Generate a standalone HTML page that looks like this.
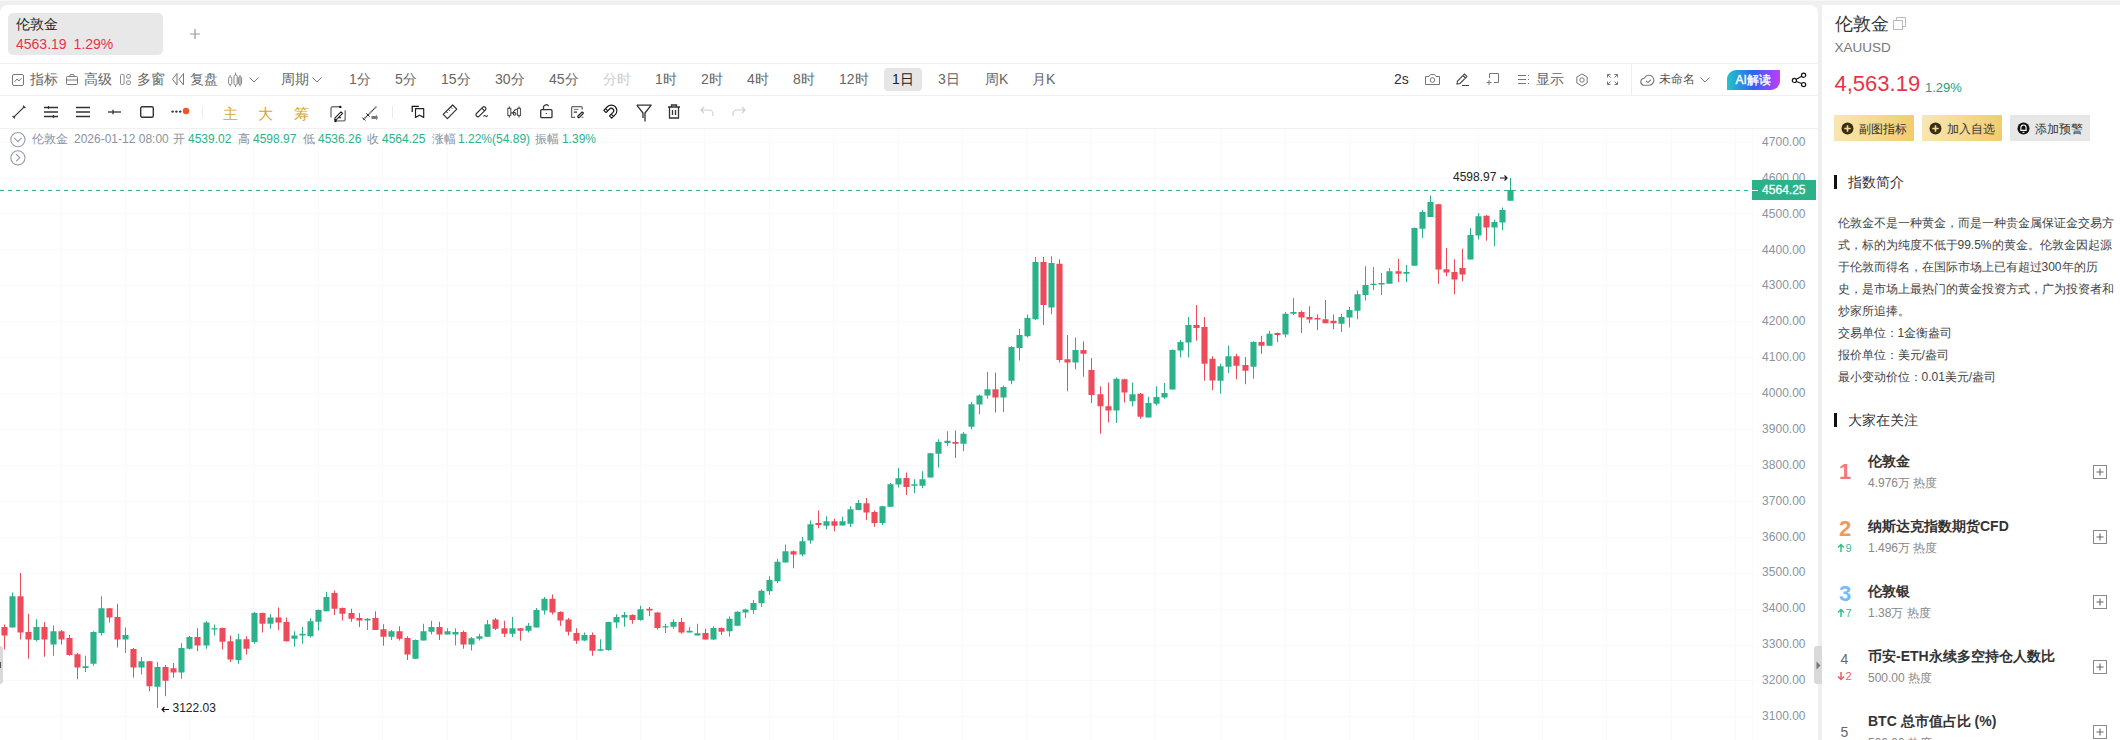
<!DOCTYPE html>
<html><head><meta charset="utf-8"><style>
html,body{margin:0;padding:0}
body{width:2120px;height:740px;overflow:hidden;background:#efefef;position:relative;font-family:"Liberation Sans",sans-serif}
.t{position:absolute;white-space:nowrap}
.i{position:absolute;overflow:visible}
</style></head><body>
<div style="position:absolute;left:0;top:0;width:2120px;height:1px;background:#f7f7f7"></div>
<div style="position:absolute;left:0;top:5px;width:1818px;height:735px;background:#fff;border-radius:8px 8px 0 0"></div>
<div style="position:absolute;left:1822px;top:5px;width:298px;height:735px;background:#fff"></div>
<svg width="1818" height="612" viewBox="0 128 1818 612" style="position:absolute;left:0;top:128px">
<path d="M60.5 129V740 M125.5 129V740 M189.5 129V740 M253.5 129V740 M318.5 129V740 M382.5 129V740 M447.5 129V740 M511.5 129V740 M576.5 129V740 M640.5 129V740 M704.5 129V740 M769.5 129V740 M833.5 129V740 M898.5 129V740 M962.5 129V740 M1027.5 129V740 M1091.5 129V740 M1155.5 129V740 M1220.5 129V740 M1284.5 129V740 M1349.5 129V740 M1413.5 129V740 M1478.5 129V740 M1542.5 129V740 M1606.5 129V740 M1671.5 129V740 M1735.5 129V740 M0 142.5H1757 M0 178.5H1757 M0 213.5H1757 M0 249.5H1757 M0 285.5H1757 M0 321.5H1757 M0 357.5H1757 M0 393.5H1757 M0 429.5H1757 M0 465.5H1757 M0 501.5H1757 M0 537.5H1757 M0 573.5H1757 M0 609.5H1757 M0 645.5H1757 M0 680.5H1757 M0 716.5H1757" stroke="#f8f9fb" stroke-width="1" fill="none"/>
<path d="M1752.5 129V740" stroke="#f9fafb" stroke-width="1"/>
<path d="M12.5 592.50V627.50 M36.5 619.25V641.50 M53.5 625.50V655.75 M85.5 655.75V672.00 M93.5 631.25V665.75 M101.5 596.25V635.50 M125.5 627.50V653.00 M141.5 657.00V674.50 M157.5 662.00V708.00 M181.5 643.25V678.75 M189.5 635.75V649.50 M206.5 621.25V648.75 M214.5 624.50V635.50 M238.5 633.75V663.75 M254.5 612.00V643.75 M270.5 614.25V628.75 M294.5 631.25V646.75 M302.5 627.00V643.75 M310.5 618.25V637.50 M318.5 609.50V630.50 M326.5 591.75V611.25 M367.5 618.00V630.00 M391.5 630.00V640.00 M415.5 639.50V658.75 M423.5 623.75V640.50 M431.5 620.75V634.50 M447.5 628.25V634.50 M455.5 628.25V645.50 M471.5 637.00V650.50 M479.5 633.75V640.50 M487.5 620.00V636.75 M512.5 617.00V637.00 M528.5 623.00V632.50 M536.5 608.00V627.50 M544.5 597.00V614.50 M584.5 632.50V641.25 M600.5 639.25V650.75 M608.5 621.75V650.75 M616.5 614.25V628.25 M624.5 612.00V626.75 M640.5 605.75V620.75 M665.5 623.75V633.00 M673.5 619.25V628.75 M689.5 627.00V632.50 M697.5 623.75V635.50 M713.5 626.25V640.00 M729.5 616.25V636.75 M737.5 611.25V625.75 M745.5 608.75V618.00 M753.5 600.00V613.75 M761.5 589.25V607.00 M769.5 576.25V595.00 M777.5 558.75V583.00 M785.5 544.50V562.50 M802.5 537.00V556.25 M810.5 520.50V543.75 M826.5 516.25V529.25 M842.5 516.75V525.50 M850.5 506.25V527.00 M858.5 500.00V510.00 M882.5 505.75V525.00 M890.5 483.00V506.75 M898.5 468.00V487.50 M914.5 479.25V493.00 M922.5 471.25V488.25 M930.5 453.00V477.50 M938.5 439.25V467.50 M947.5 431.25V446.25 M963.5 432.00V451.25 M971.5 401.75V429.25 M979.5 394.50V414.25 M987.5 372.00V398.75 M1003.5 385.50V412.00 M1011.5 346.25V384.25 M1019.5 328.75V360.50 M1027.5 314.50V337.50 M1035.5 257.00V320.00 M1051.5 256.25V314.25 M1075.5 337.50V369.25 M1116.5 377.50V423.00 M1132.5 382.50V406.25 M1148.5 396.75V417.50 M1156.5 386.25V405.50 M1164.5 383.00V398.75 M1172.5 349.50V389.50 M1180.5 340.00V357.50 M1188.5 317.00V357.50 M1220.5 363.75V393.75 M1228.5 345.50V373.00 M1253.5 341.25V378.75 M1269.5 330.75V345.75 M1285.5 312.00V337.50 M1293.5 298.00V315.00 M1341.5 313.75V332.00 M1349.5 307.00V327.50 M1357.5 290.50V319.25 M1365.5 266.25V300.50 M1373.5 267.00V290.00 M1381.5 273.00V295.00 M1389.5 268.00V283.75 M1406.5 265.00V282.00 M1414.5 227.50V265.75 M1422.5 210.00V238.00 M1430.5 195.50V217.00 M1470.5 228.00V259.50 M1478.5 213.00V239.50 M1494.5 219.50V246.25 M1502.5 207.50V230.00 M1510.5 178.00V200.75" stroke="#2bb28a" stroke-width="1" fill="none"/>
<path d="M4.5 624.50V649.50 M20.5 573.00V639.50 M28.5 613.75V658.75 M44.5 622.00V656.75 M61.5 630.00V644.50 M69.5 635.00V655.75 M77.5 653.00V679.25 M109.5 608.25V622.50 M117.5 603.75V647.50 M133.5 648.00V677.50 M149.5 661.25V691.25 M165.5 665.00V696.25 M173.5 663.00V677.50 M197.5 628.25V651.25 M222.5 627.50V649.50 M230.5 635.50V662.00 M246.5 636.25V654.50 M262.5 612.50V632.50 M278.5 607.50V630.00 M286.5 617.50V641.75 M334.5 590.50V615.00 M342.5 607.50V620.50 M351.5 608.75V621.75 M359.5 613.00V627.00 M375.5 611.25V630.00 M383.5 624.25V645.75 M399.5 626.25V640.50 M407.5 636.25V660.00 M439.5 621.75V640.00 M463.5 630.50V648.75 M495.5 618.00V630.00 M504.5 620.75V637.00 M520.5 628.00V640.75 M552.5 594.50V614.50 M560.5 611.25V625.75 M568.5 618.00V635.50 M576.5 628.25V643.75 M592.5 632.50V655.75 M632.5 614.25V623.75 M649.5 607.00V616.25 M657.5 612.00V629.50 M681.5 618.00V633.75 M705.5 628.75V639.50 M721.5 627.50V635.00 M793.5 550.50V568.25 M818.5 510.50V528.25 M834.5 518.75V531.25 M866.5 498.00V520.00 M874.5 510.50V526.75 M906.5 472.50V495.00 M955.5 430.50V458.00 M995.5 372.50V412.50 M1043.5 257.00V325.00 M1059.5 259.25V362.50 M1067.5 335.00V391.25 M1083.5 341.25V376.75 M1091.5 358.00V403.00 M1100.5 386.25V433.75 M1108.5 382.50V422.50 M1124.5 378.75V402.50 M1140.5 393.00V418.75 M1196.5 305.00V340.75 M1204.5 317.00V380.75 M1212.5 356.25V390.00 M1236.5 353.75V379.25 M1245.5 357.00V384.25 M1261.5 335.75V353.75 M1277.5 332.50V342.00 M1301.5 310.50V333.00 M1309.5 306.25V323.25 M1317.5 314.50V330.00 M1325.5 300.00V323.25 M1333.5 314.50V329.25 M1398.5 258.75V282.00 M1438.5 203.75V283.75 M1446.5 248.00V276.25 M1454.5 259.25V294.25 M1462.5 248.75V281.25 M1486.5 215.00V240.75" stroke="#ee4b5a" stroke-width="1" fill="none"/>
<path d="M9.45 596.25h6.1V627.50h-6.1Z M33.45 627.00h6.1V640.00h-6.1Z M50.45 631.25h6.1V644.50h-6.1Z M82.45 666.25h6.1V668.00h-6.1Z M90.45 632.00h6.1V663.75h-6.1Z M98.45 608.25h6.1V633.00h-6.1Z M122.45 635.00h6.1V639.50h-6.1Z M138.45 661.25h6.1V667.50h-6.1Z M154.45 667.00h6.1V686.75h-6.1Z M178.45 648.00h6.1V672.50h-6.1Z M186.45 637.00h6.1V648.75h-6.1Z M203.45 622.50h6.1V645.50h-6.1Z M211.45 628.25h6.1V629.50h-6.1Z M235.45 639.25h6.1V660.00h-6.1Z M251.45 613.00h6.1V642.00h-6.1Z M267.45 617.50h6.1V623.75h-6.1Z M291.45 635.50h6.1V638.75h-6.1Z M299.45 633.75h6.1V635.50h-6.1Z M307.45 621.25h6.1V636.25h-6.1Z M315.45 610.00h6.1V621.75h-6.1Z M323.45 597.00h6.1V611.25h-6.1Z M364.45 618.75h6.1V620.50h-6.1Z M388.45 631.25h6.1V636.75h-6.1Z M412.45 640.00h6.1V658.75h-6.1Z M420.45 631.25h6.1V640.50h-6.1Z M428.45 627.00h6.1V631.75h-6.1Z M444.45 631.25h6.1V634.50h-6.1Z M452.45 632.00h6.1V634.50h-6.1Z M468.45 638.25h6.1V644.50h-6.1Z M476.45 636.25h6.1V638.75h-6.1Z M484.45 624.25h6.1V636.75h-6.1Z M509.45 628.25h6.1V633.75h-6.1Z M525.45 625.75h6.1V630.75h-6.1Z M533.45 610.00h6.1V627.50h-6.1Z M541.45 598.75h6.1V610.50h-6.1Z M581.45 635.00h6.1V640.50h-6.1Z M597.45 649.25h6.1V650.75h-6.1Z M605.45 622.00h6.1V650.00h-6.1Z M613.45 617.00h6.1V622.50h-6.1Z M621.45 615.00h6.1V617.50h-6.1Z M637.45 609.25h6.1V620.00h-6.1Z M662.45 626.25h6.1V627.50h-6.1Z M670.45 622.00h6.1V626.75h-6.1Z M686.45 630.75h6.1V632.50h-6.1Z M694.45 633.25h6.1V635.50h-6.1Z M710.45 628.00h6.1V639.50h-6.1Z M726.45 618.75h6.1V631.25h-6.1Z M734.45 611.75h6.1V625.75h-6.1Z M742.45 609.50h6.1V612.50h-6.1Z M750.45 603.00h6.1V610.00h-6.1Z M758.45 590.75h6.1V603.25h-6.1Z M766.45 580.00h6.1V591.25h-6.1Z M774.45 561.75h6.1V581.25h-6.1Z M782.45 551.25h6.1V562.50h-6.1Z M799.45 541.25h6.1V554.50h-6.1Z M807.45 524.25h6.1V540.50h-6.1Z M823.45 521.25h6.1V525.75h-6.1Z M839.45 521.25h6.1V525.50h-6.1Z M847.45 509.25h6.1V523.75h-6.1Z M855.45 503.00h6.1V510.00h-6.1Z M879.45 506.25h6.1V523.00h-6.1Z M887.45 484.25h6.1V506.75h-6.1Z M895.45 478.25h6.1V484.50h-6.1Z M911.45 484.25h6.1V485.75h-6.1Z M919.45 479.25h6.1V485.75h-6.1Z M927.45 453.25h6.1V477.50h-6.1Z M935.45 442.00h6.1V453.75h-6.1Z M944.45 440.75h6.1V443.00h-6.1Z M960.45 433.75h6.1V443.75h-6.1Z M968.45 404.25h6.1V426.75h-6.1Z M976.45 395.50h6.1V404.50h-6.1Z M984.45 389.25h6.1V395.50h-6.1Z M1000.45 387.00h6.1V397.50h-6.1Z M1008.45 347.00h6.1V380.75h-6.1Z M1016.45 335.00h6.1V348.00h-6.1Z M1024.45 318.00h6.1V336.25h-6.1Z M1032.45 262.00h6.1V319.25h-6.1Z M1048.45 263.00h6.1V307.50h-6.1Z M1072.45 350.00h6.1V362.50h-6.1Z M1113.45 378.75h6.1V410.50h-6.1Z M1129.45 394.25h6.1V401.25h-6.1Z M1145.45 403.00h6.1V417.50h-6.1Z M1153.45 397.00h6.1V403.75h-6.1Z M1161.45 393.00h6.1V397.50h-6.1Z M1169.45 350.00h6.1V389.50h-6.1Z M1177.45 342.00h6.1V350.50h-6.1Z M1185.45 325.00h6.1V342.50h-6.1Z M1217.45 366.25h6.1V380.75h-6.1Z M1225.45 356.25h6.1V366.75h-6.1Z M1250.45 342.00h6.1V366.75h-6.1Z M1266.45 333.75h6.1V345.75h-6.1Z M1282.45 313.75h6.1V334.50h-6.1Z M1290.45 312.00h6.1V313.75h-6.1Z M1338.45 317.00h6.1V323.75h-6.1Z M1346.45 310.00h6.1V317.50h-6.1Z M1354.45 294.25h6.1V310.75h-6.1Z M1362.45 285.00h6.1V295.00h-6.1Z M1370.45 283.75h6.1V285.00h-6.1Z M1378.45 283.00h6.1V284.50h-6.1Z M1386.45 271.25h6.1V283.75h-6.1Z M1403.45 272.00h6.1V273.75h-6.1Z M1411.45 228.00h6.1V265.75h-6.1Z M1419.45 212.00h6.1V228.75h-6.1Z M1427.45 202.00h6.1V217.00h-6.1Z M1467.45 235.00h6.1V259.50h-6.1Z M1475.45 216.25h6.1V235.50h-6.1Z M1491.45 222.00h6.1V227.50h-6.1Z M1499.45 210.00h6.1V222.50h-6.1Z M1507.45 190.00h6.1V200.75h-6.1Z" fill="#2bb28a"/>
<path d="M1.45 627.00h6.1V635.50h-6.1Z M17.45 596.25h6.1V632.50h-6.1Z M25.45 632.00h6.1V639.50h-6.1Z M41.45 627.00h6.1V639.50h-6.1Z M58.45 631.25h6.1V639.50h-6.1Z M66.45 638.00h6.1V655.00h-6.1Z M74.45 654.25h6.1V667.50h-6.1Z M106.45 608.25h6.1V617.50h-6.1Z M114.45 617.00h6.1V639.50h-6.1Z M130.45 649.00h6.1V667.50h-6.1Z M146.45 661.25h6.1V686.25h-6.1Z M162.45 667.00h6.1V680.75h-6.1Z M170.45 668.25h6.1V672.50h-6.1Z M194.45 637.00h6.1V645.50h-6.1Z M219.45 628.00h6.1V641.75h-6.1Z M227.45 641.25h6.1V659.50h-6.1Z M243.45 639.25h6.1V648.75h-6.1Z M259.45 613.00h6.1V623.75h-6.1Z M275.45 617.50h6.1V622.50h-6.1Z M283.45 622.00h6.1V641.25h-6.1Z M331.45 593.00h6.1V608.75h-6.1Z M339.45 608.00h6.1V613.75h-6.1Z M348.45 613.00h6.1V618.75h-6.1Z M356.45 618.00h6.1V620.50h-6.1Z M372.45 618.00h6.1V630.00h-6.1Z M380.45 629.25h6.1V636.75h-6.1Z M396.45 631.25h6.1V638.75h-6.1Z M404.45 638.00h6.1V654.50h-6.1Z M436.45 627.00h6.1V634.50h-6.1Z M460.45 632.00h6.1V644.50h-6.1Z M492.45 619.50h6.1V628.75h-6.1Z M501.45 628.25h6.1V633.75h-6.1Z M517.45 628.25h6.1V630.75h-6.1Z M549.45 598.75h6.1V612.50h-6.1Z M557.45 612.00h6.1V620.50h-6.1Z M565.45 619.50h6.1V631.75h-6.1Z M573.45 633.00h6.1V640.75h-6.1Z M589.45 635.00h6.1V650.75h-6.1Z M629.45 615.00h6.1V620.00h-6.1Z M646.45 608.75h6.1V610.50h-6.1Z M654.45 612.50h6.1V628.00h-6.1Z M678.45 622.00h6.1V632.50h-6.1Z M702.45 633.00h6.1V639.50h-6.1Z M718.45 628.00h6.1V631.75h-6.1Z M790.45 551.25h6.1V554.50h-6.1Z M815.45 523.00h6.1V525.00h-6.1Z M831.45 521.25h6.1V525.75h-6.1Z M863.45 503.25h6.1V512.50h-6.1Z M871.45 512.00h6.1V523.00h-6.1Z M903.45 478.00h6.1V487.00h-6.1Z M952.45 442.00h6.1V443.75h-6.1Z M992.45 389.25h6.1V397.50h-6.1Z M1040.45 262.00h6.1V305.00h-6.1Z M1056.45 263.75h6.1V360.00h-6.1Z M1064.45 359.25h6.1V362.50h-6.1Z M1080.45 350.00h6.1V353.75h-6.1Z M1088.45 370.00h6.1V395.00h-6.1Z M1097.45 394.25h6.1V406.25h-6.1Z M1105.45 406.25h6.1V410.50h-6.1Z M1121.45 379.25h6.1V392.50h-6.1Z M1137.45 393.75h6.1V416.75h-6.1Z M1193.45 325.00h6.1V328.00h-6.1Z M1201.45 327.00h6.1V363.75h-6.1Z M1209.45 358.75h6.1V380.50h-6.1Z M1233.45 356.25h6.1V365.75h-6.1Z M1242.45 365.00h6.1V370.75h-6.1Z M1258.45 342.00h6.1V345.75h-6.1Z M1274.45 333.00h6.1V335.00h-6.1Z M1298.45 312.00h6.1V317.50h-6.1Z M1306.45 317.00h6.1V319.50h-6.1Z M1314.45 318.00h6.1V319.50h-6.1Z M1322.45 319.25h6.1V323.25h-6.1Z M1330.45 320.75h6.1V323.25h-6.1Z M1395.45 271.25h6.1V273.75h-6.1Z M1435.45 204.25h6.1V269.50h-6.1Z M1443.45 269.25h6.1V272.50h-6.1Z M1451.45 272.00h6.1V279.50h-6.1Z M1459.45 268.00h6.1V274.50h-6.1Z M1483.45 215.75h6.1V227.50h-6.1Z" fill="#ee4b5a"/>
<path d="M0 190.5H1752" stroke="#2bb28a" stroke-width="1" stroke-dasharray="4 4"/>
<path d="M1500 178H1507M1504.5 175.5L1507 178L1504.5 180.5" stroke="#111" stroke-width="1.1" fill="none"/>
<path d="M162 709.5H169M164.5 707L162 709.5L164.5 712" stroke="#111" stroke-width="1.1" fill="none"/>
</svg>
<div style="position:absolute;left:8px;top:13px;width:155px;height:42px;background:#e8e8e8;border-radius:5px"></div>
<div class="t" style="left:16px;top:15.0px;height:18px;line-height:18px;font-size:14px;color:#222;">伦敦金</div>
<div class="t" style="left:16px;top:35.0px;height:18px;line-height:18px;font-size:14px;color:#e8334a;">4563.19<span style="margin-left:7px">1.29%</span></div>
<svg style="position:absolute;left:189px;top:28px" width="12" height="12"><path d="M6 1V11M1 6H11" stroke="#999" stroke-width="1.2"/></svg>
<div style="position:absolute;left:0;top:63px;width:1818px;height:1px;background:#f0f0f0"></div>
<div style="position:absolute;left:0;top:95px;width:1818px;height:1px;background:#f0f0f0"></div>
<div style="position:absolute;left:0;top:128px;width:1818px;height:1px;background:#f0f0f0"></div>
<div style="position:absolute;left:1631px;top:64px;width:1px;height:31px;background:#eeeeee"></div>
<div class="t" style="left:30px;top:70.0px;height:18px;line-height:18px;font-size:14px;color:#666;">指标</div>
<div class="t" style="left:84px;top:70.0px;height:18px;line-height:18px;font-size:14px;color:#666;">高级</div>
<div class="t" style="left:137px;top:70.0px;height:18px;line-height:18px;font-size:14px;color:#666;">多窗</div>
<div class="t" style="left:190px;top:70.0px;height:18px;line-height:18px;font-size:14px;color:#666;">复盘</div>
<div class="t" style="left:281px;top:70.0px;height:18px;line-height:18px;font-size:14px;color:#666;">周期</div>
<div class="t" style="left:349px;top:70.0px;height:18px;line-height:18px;font-size:14px;color:#666;">1分</div>
<div class="t" style="left:395px;top:70.0px;height:18px;line-height:18px;font-size:14px;color:#666;">5分</div>
<div class="t" style="left:441px;top:70.0px;height:18px;line-height:18px;font-size:14px;color:#666;">15分</div>
<div class="t" style="left:495px;top:70.0px;height:18px;line-height:18px;font-size:14px;color:#666;">30分</div>
<div class="t" style="left:549px;top:70.0px;height:18px;line-height:18px;font-size:14px;color:#666;">45分</div>
<div class="t" style="left:655px;top:70.0px;height:18px;line-height:18px;font-size:14px;color:#666;">1时</div>
<div class="t" style="left:701px;top:70.0px;height:18px;line-height:18px;font-size:14px;color:#666;">2时</div>
<div class="t" style="left:747px;top:70.0px;height:18px;line-height:18px;font-size:14px;color:#666;">4时</div>
<div class="t" style="left:793px;top:70.0px;height:18px;line-height:18px;font-size:14px;color:#666;">8时</div>
<div class="t" style="left:839px;top:70.0px;height:18px;line-height:18px;font-size:14px;color:#666;">12时</div>
<div class="t" style="left:938px;top:70.0px;height:18px;line-height:18px;font-size:14px;color:#666;">3日</div>
<div class="t" style="left:985px;top:70.0px;height:18px;line-height:18px;font-size:14px;color:#666;">周K</div>
<div class="t" style="left:1032px;top:70.0px;height:18px;line-height:18px;font-size:14px;color:#666;">月K</div>
<div class="t" style="left:1536px;top:70.0px;height:18px;line-height:18px;font-size:14px;color:#666;">显示</div>
<div class="t" style="left:603px;top:70.0px;height:18px;line-height:18px;font-size:14px;color:#cccccc;">分时</div>
<div class="t" style="left:1659px;top:71.0px;height:16px;line-height:16px;font-size:12px;color:#555;">未命名</div>
<div class="t" style="left:1394px;top:70.0px;height:18px;line-height:18px;font-size:14px;color:#333;">2s</div>
<div style="position:absolute;left:884px;top:68px;width:38px;height:23px;background:#e6e6e6;border-radius:4px"></div>
<div class="t" style="left:892px;top:70.0px;height:18px;line-height:18px;font-size:14px;color:#222;">1日</div>

<svg class="i" style="left:12px;top:74px" width="12" height="12"><rect x="0.5" y="0.5" width="11" height="11" rx="1.5" fill="none" stroke="#777"/><path d="M2.5 8L5 5L7 7L9.5 4" fill="none" stroke="#777"/></svg>
<svg class="i" style="left:66px;top:73px" width="12" height="12"><path d="M3.5 3.5L4.5 1.5H7.5L8.5 3.5" fill="none" stroke="#777"/><rect x="0.5" y="3.5" width="11" height="8" rx="1" fill="none" stroke="#777"/><path d="M0.5 7H11.5" stroke="#777"/></svg>
<svg class="i" style="left:120px;top:74px" width="11" height="11"><rect x="0.5" y="0.5" width="3.6" height="10" rx="1" fill="none" stroke="#888"/><rect x="6.7" y="0.5" width="3.6" height="3.6" rx="1" fill="none" stroke="#888"/><rect x="6.7" y="6.9" width="3.6" height="3.6" rx="1" fill="none" stroke="#888"/></svg>
<svg class="i" style="left:172px;top:73px" width="13" height="13"><path d="M5 0.5V12L0.5 6.3Z M11.5 0.5V12L7 6.3Z" fill="none" stroke="#777" stroke-width="1" stroke-linejoin="round"/></svg>
<svg class="i" style="left:228px;top:72px" width="14" height="15"><path d="M2.2 3V14.5M7.6 0.5V15M12 3V14.5" stroke="#888" stroke-width="1"/><rect x="0.6" y="5" width="3.2" height="7.5" rx="1.2" fill="#fff" stroke="#888" stroke-width="1"/><rect x="6" y="3" width="3.2" height="10" rx="1.2" fill="#fff" stroke="#888" stroke-width="1"/><rect x="10.4" y="5" width="3.2" height="7.5" rx="1.2" fill="#bbb" stroke="#888" stroke-width="1"/></svg>
<svg class="i" style="left:249px;top:77px" width="10" height="6"><path d="M0.5 0.5L5 5L9.5 0.5" fill="none" stroke="#777"/></svg>
<svg class="i" style="left:312px;top:77px" width="10" height="6"><path d="M0.5 0.5L5 5L9.5 0.5" fill="none" stroke="#777"/></svg>
<svg class="i" style="left:1425px;top:74px" width="15" height="11"><path d="M0.5 2.5H4L5.5 0.5H9.5L11 2.5H14.5V10.5H0.5Z" fill="none" stroke="#777"/><circle cx="7.5" cy="6" r="2.3" fill="none" stroke="#777"/></svg>
<svg class="i" style="left:1456px;top:73px" width="14" height="13"><path d="M1 11L1.5 8L8.5 1L11 3.5L4 10.5Z M7 2.5L9.5 5" fill="none" stroke="#444" stroke-width="1.1"/><path d="M6 12.5H13" stroke="#444"/></svg>
<svg class="i" style="left:1486px;top:73px" width="13" height="13"><path d="M3.5 5V0.5H12.5V9.5H8" fill="none" stroke="#777"/><path d="M3 7V12M0.5 9.5H5.5" stroke="#777"/></svg>
<svg class="i" style="left:1518px;top:74px" width="12" height="11"><path d="M0 1.5H8M0 5.5H8M0 9.5H8M10 1.5H11M10 5.5H11M10 9.5H11" stroke="#777"/></svg>
<svg class="i" style="left:1575px;top:73px" width="14" height="14"><path d="M7 1L12.2 4V10L7 13L1.8 10V4Z" fill="none" stroke="#777"/><circle cx="7" cy="7" r="2.2" fill="none" stroke="#777"/></svg>
<svg class="i" style="left:1607px;top:74px" width="11" height="11"><path d="M0.5 3.5V0.5H3.5M7.5 0.5H10.5V3.5M10.5 7.5V10.5H7.5M3.5 10.5H0.5V7.5M0.5 0.5L3.5 3.5M10.5 0.5L7.5 3.5M10.5 10.5L7.5 7.5M0.5 10.5L3.5 7.5" fill="none" stroke="#777"/></svg>
<svg class="i" style="left:1639px;top:73px" width="17" height="14"><path d="M4.2 12.2H10.5A5 5 0 1 0 5.3 5.2A3.6 3.6 0 0 0 4.2 12.2Z" fill="none" stroke="#777" stroke-width="1.1"/><path d="M7 7.8L9 9.6L12 6.6" fill="none" stroke="#777" stroke-width="1.1"/></svg>
<svg class="i" style="left:1700px;top:77px" width="10" height="6"><path d="M0.5 0.5L5 5L9.5 0.5" fill="none" stroke="#777"/></svg>
<svg class="i" style="left:1792px;top:72px" width="15" height="16"><circle cx="2.4" cy="8.4" r="2.1" fill="none" stroke="#111" stroke-width="1.2"/><circle cx="11.6" cy="3.2" r="2.1" fill="none" stroke="#111" stroke-width="1.2"/><circle cx="11.6" cy="12.6" r="2.1" fill="none" stroke="#111" stroke-width="1.2"/><path d="M4.3 7.3L9.7 4.3M4.3 9.5L9.7 11.5" stroke="#111" stroke-width="1.1"/></svg>

<div style="position:absolute;left:1727px;top:70px;width:53px;height:20px;border-radius:9px 0 9px 0;background:linear-gradient(90deg,#22c4c6 0%,#2f63f6 50%,#7a4ff7 75%,#c43cf3 100%)"></div>
<div class="t" style="left:1735.5px;top:72.0px;height:16px;line-height:16px;font-size:12px;color:#fff;-webkit-text-stroke:0.35px #fff">AI解读</div>

<svg class="i" style="left:12px;top:105px" width="14" height="14"><path d="M1.8 12.2L12.2 1.8" stroke="#333" stroke-width="1.2"/><path d="M0.6 11L3 13.4M11 0.6L13.4 3" stroke="#333" stroke-width="1.2"/></svg>
<svg class="i" style="left:44px;top:106px" width="14" height="12"><path d="M0 1.5H14M0 6H14M0 10.5H14" stroke="#333" stroke-width="1.3"/><path d="M4.5 0V3M9.5 9V12" stroke="#333" stroke-width="1.2"/></svg>
<svg class="i" style="left:76px;top:106px" width="14" height="12"><path d="M0 1.5H14M0 6H14M0 10.5H14" stroke="#333" stroke-width="1.3"/></svg>
<svg class="i" style="left:108px;top:109px" width="14" height="6"><path d="M0 3H13" stroke="#333" stroke-width="1.3"/><path d="M5 0.8V5.2" stroke="#333" stroke-width="1.3"/></svg>
<svg class="i" style="left:140px;top:106px" width="14" height="12"><rect x="0.7" y="0.7" width="12.6" height="10.6" rx="1.5" fill="none" stroke="#333" stroke-width="1.4"/></svg>
<svg class="i" style="left:171px;top:107px" width="19" height="8"><circle cx="1.6" cy="4.6" r="1.2" fill="#333"/><circle cx="5.4" cy="4.6" r="1.2" fill="#333"/><circle cx="9.2" cy="4.6" r="1.2" fill="#333"/><circle cx="15" cy="4" r="3.2" fill="#f0522a"/></svg>
<div style="position:absolute;left:202px;top:106px;width:1px;height:12px;background:#eaeaea"></div>
<svg class="i" style="left:330px;top:105px" width="17" height="18"><path d="M1 12.5V3.6Q1 1.8 3 1.8H10" fill="none" stroke="#777" stroke-width="1.4"/><circle cx="10.3" cy="1.9" r="1.2" fill="#111"/><path d="M15.2 5.3V14Q15.2 15.9 13.2 15.9H5.6" fill="none" stroke="#777" stroke-width="1.4"/><circle cx="5.5" cy="16" r="1.2" fill="#111"/><path d="M5 12.8L11 6.8L12.6 8.4L6.6 14.4L4.7 14.7Z" fill="none" stroke="#222" stroke-width="1.1" stroke-linejoin="round"/><path d="M8.6 12.6H11" stroke="#222" stroke-width="1.1"/></svg>
<svg class="i" style="left:362px;top:105px" width="17" height="16"><path d="M1.5 14.5L14.5 1.5" stroke="#222" stroke-width="1.2" stroke-dasharray="1.2 0.5"/><path d="M0.3 12.5L3.3 15.5M4.2 8.2L7.6 11.6" stroke="#222" stroke-width="1"/><path d="M9.5 11H14V9.5L16 12.5L14 15.5V14H9.5Z" fill="#777"/></svg>
<div style="position:absolute;left:392px;top:106px;width:1px;height:12px;background:#eaeaea"></div>
<svg class="i" style="left:411px;top:105px" width="14" height="14"><path d="M1.2 7V1.4H7.8" fill="none" stroke="#111" stroke-width="1.2"/><path d="M4.5 12.4V3.6H12.7V12.4L8.6 10.2Z" fill="none" stroke="#222" stroke-width="1.2" stroke-linejoin="round"/></svg>
<svg class="i" style="left:442px;top:104px" width="16" height="16"><path d="M1.2 10.4L10.6 1L14.8 5.2L5.4 14.6Z" fill="none" stroke="#333" stroke-width="1.2" stroke-linejoin="round"/><path d="M4.3 7.6L5.8 9.1M6.5 5.4L8 6.9M8.7 3.2L10.2 4.7" stroke="#333" stroke-width="1"/></svg>
<svg class="i" style="left:474px;top:104px" width="15" height="15"><path d="M2.5 9.5L8.6 3.4A1.9 1.9 0 0 1 11.3 6.1L5.2 12.2A1.9 1.9 0 0 1 2.5 9.5Z M7.8 4.2L10.5 6.9" fill="none" stroke="#333" stroke-width="1.2"/><path d="M9.5 12.5Q10.5 10.8 11.5 12T13.6 11.2" fill="none" stroke="#333" stroke-width="1.1"/></svg>
<svg class="i" style="left:506px;top:105px" width="16" height="14"><path d="M3.3 1.5V12.5M13 1.5V12.5" stroke="#333" stroke-width="1.1"/><rect x="1.8" y="3.4" width="3" height="7" fill="#fff" stroke="#555" stroke-width="1.1"/><rect x="11.5" y="3.4" width="3" height="7" fill="#fff" stroke="#555" stroke-width="1.1"/><path d="M11 4.2Q8 4.8 7.5 6.8Q7 8.5 7.5 9.5Q8.5 11 9.7 9.5Q10.3 8 8.5 7.5L5 8" fill="none" stroke="#333" stroke-width="1.1"/></svg>
<svg class="i" style="left:540px;top:103px" width="13" height="16"><rect x="0.7" y="6.7" width="11.3" height="8" rx="1" fill="none" stroke="#333" stroke-width="1.3"/><path d="M3.5 6.5V4.2A2.7 2.7 0 0 1 8.6 3.2" fill="none" stroke="#333" stroke-width="1.3"/><path d="M5.5 10.5H7" stroke="#666" stroke-width="1"/></svg>
<svg class="i" style="left:571px;top:106px" width="14" height="13"><path d="M4.2 11.3H2A1 1 0 0 1 0.6 10V1.8A1.2 1.2 0 0 1 1.8 0.6H10A1.2 1.2 0 0 1 11.2 1.8V3.4" fill="none" stroke="#666" stroke-width="1.3"/><path d="M2.8 3.4H7.5" stroke="#888" stroke-width="1.2"/><path d="M2.8 6.1H6" stroke="#111" stroke-width="1.1"/><path d="M7 10L10.7 6.3A1 1 0 0 1 12.1 7.7L8.4 11.4A1 1 0 0 1 7 10Z" fill="none" stroke="#111" stroke-width="1.1"/><path d="M10.5 11.3H12.5" stroke="#777" stroke-width="1"/></svg>
<svg class="i" style="left:603px;top:105px" width="14" height="14"><g transform="translate(8.3 5.7) rotate(45)"><path d="M-5.6 5V0A5.6 5.6 0 0 1 5.6 0V5H2.4V0A2.4 2.4 0 0 0 -2.4 0V5Z M-5.6 2.6H-2.4M2.4 2.6H5.6" fill="none" stroke="#111" stroke-width="1.1" stroke-linejoin="round"/></g></svg>
<svg class="i" style="left:636px;top:104px" width="16" height="18"><path d="M0.8 1.2H15.2L9 9V17.5" fill="none" stroke="#333" stroke-width="1.3" stroke-linejoin="round"/><path d="M0.8 1.2L7 9V14" fill="none" stroke="#333" stroke-width="1.3"/></svg>
<svg class="i" style="left:668px;top:104px" width="12" height="15"><path d="M0 3H12M3.5 3V1H8.5V3M1.5 3.5V14H10.5V3.5M4.5 6V11M7.5 6V11" fill="none" stroke="#333" stroke-width="1.3"/></svg>
<svg class="i" style="left:700px;top:106px" width="14" height="11"><path d="M4 1L1 4L4 7M1 4H9A4 4 0 0 1 13 8V10" fill="none" stroke="#cfcfcf" stroke-width="1.2"/></svg>
<svg class="i" style="left:732px;top:106px" width="14" height="11"><path d="M10 1L13 4L10 7M13 4H5A4 4 0 0 0 1 8V10" fill="none" stroke="#cfcfcf" stroke-width="1.2"/></svg>

<div class="t" style="left:223px;top:103.5px;height:19px;line-height:19px;font-size:15px;color:#d6a41c;">主</div>
<div class="t" style="left:258px;top:103.5px;height:19px;line-height:19px;font-size:15px;color:#d6a41c;">大</div>
<div class="t" style="left:294px;top:103.5px;height:19px;line-height:19px;font-size:15px;color:#d6a41c;">筹</div>
<div class="t" style="left:32px;top:130.5px;height:16px;line-height:16px;font-size:12px;color:#8b929e;">伦敦金</div>
<div class="t" style="left:74px;top:130.5px;height:16px;line-height:16px;font-size:12px;color:#8b929e;">2026-01-12&nbsp;08:00</div>
<div class="t" style="left:173px;top:130.5px;height:16px;line-height:16px;font-size:12px;color:#8b929e;">开</div>
<div class="t" style="left:188px;top:130.5px;height:16px;line-height:16px;font-size:12px;color:#2bb28a;">4539.02</div>
<div class="t" style="left:238px;top:130.5px;height:16px;line-height:16px;font-size:12px;color:#8b929e;">高</div>
<div class="t" style="left:253px;top:130.5px;height:16px;line-height:16px;font-size:12px;color:#2bb28a;">4598.97</div>
<div class="t" style="left:303px;top:130.5px;height:16px;line-height:16px;font-size:12px;color:#8b929e;">低</div>
<div class="t" style="left:318px;top:130.5px;height:16px;line-height:16px;font-size:12px;color:#2bb28a;">4536.26</div>
<div class="t" style="left:367px;top:130.5px;height:16px;line-height:16px;font-size:12px;color:#8b929e;">收</div>
<div class="t" style="left:382px;top:130.5px;height:16px;line-height:16px;font-size:12px;color:#2bb28a;">4564.25</div>
<div class="t" style="left:432px;top:130.5px;height:16px;line-height:16px;font-size:12px;color:#8b929e;">涨幅</div>
<div class="t" style="left:458px;top:130.5px;height:16px;line-height:16px;font-size:12px;color:#2bb28a;">1.22%(54.89)</div>
<div class="t" style="left:535px;top:130.5px;height:16px;line-height:16px;font-size:12px;color:#8b929e;">振幅</div>
<div class="t" style="left:562px;top:130.5px;height:16px;line-height:16px;font-size:12px;color:#2bb28a;">1.39%</div>
<svg class="i" style="left:10px;top:131px" width="17" height="34"><circle cx="7.9" cy="8.6" r="7.1" fill="none" stroke="#959cab" stroke-width="1.1"/><path d="M4.2 6.9L7.9 10.6L11.6 6.9" fill="none" stroke="#959cab" stroke-width="1.1"/><circle cx="7.9" cy="26.8" r="7.1" fill="none" stroke="#959cab" stroke-width="1.1"/><path d="M6.1 23L9.8 26.7L6.1 30.4" fill="none" stroke="#959cab" stroke-width="1.1"/></svg>
<div class="t" style="left:1700px;width:105.5px;text-align:right;top:134.0px;height:16px;line-height:16px;font-size:12px;color:#8a93a0">4700.00</div>
<div class="t" style="left:1700px;width:105.5px;text-align:right;top:169.9px;height:16px;line-height:16px;font-size:12px;color:#8a93a0">4600.00</div>
<div class="t" style="left:1700px;width:105.5px;text-align:right;top:205.7px;height:16px;line-height:16px;font-size:12px;color:#8a93a0">4500.00</div>
<div class="t" style="left:1700px;width:105.5px;text-align:right;top:241.6px;height:16px;line-height:16px;font-size:12px;color:#8a93a0">4400.00</div>
<div class="t" style="left:1700px;width:105.5px;text-align:right;top:277.4px;height:16px;line-height:16px;font-size:12px;color:#8a93a0">4300.00</div>
<div class="t" style="left:1700px;width:105.5px;text-align:right;top:313.3px;height:16px;line-height:16px;font-size:12px;color:#8a93a0">4200.00</div>
<div class="t" style="left:1700px;width:105.5px;text-align:right;top:349.2px;height:16px;line-height:16px;font-size:12px;color:#8a93a0">4100.00</div>
<div class="t" style="left:1700px;width:105.5px;text-align:right;top:385.0px;height:16px;line-height:16px;font-size:12px;color:#8a93a0">4000.00</div>
<div class="t" style="left:1700px;width:105.5px;text-align:right;top:420.9px;height:16px;line-height:16px;font-size:12px;color:#8a93a0">3900.00</div>
<div class="t" style="left:1700px;width:105.5px;text-align:right;top:456.7px;height:16px;line-height:16px;font-size:12px;color:#8a93a0">3800.00</div>
<div class="t" style="left:1700px;width:105.5px;text-align:right;top:492.6px;height:16px;line-height:16px;font-size:12px;color:#8a93a0">3700.00</div>
<div class="t" style="left:1700px;width:105.5px;text-align:right;top:528.5px;height:16px;line-height:16px;font-size:12px;color:#8a93a0">3600.00</div>
<div class="t" style="left:1700px;width:105.5px;text-align:right;top:564.3px;height:16px;line-height:16px;font-size:12px;color:#8a93a0">3500.00</div>
<div class="t" style="left:1700px;width:105.5px;text-align:right;top:600.2px;height:16px;line-height:16px;font-size:12px;color:#8a93a0">3400.00</div>
<div class="t" style="left:1700px;width:105.5px;text-align:right;top:636.0px;height:16px;line-height:16px;font-size:12px;color:#8a93a0">3300.00</div>
<div class="t" style="left:1700px;width:105.5px;text-align:right;top:671.9px;height:16px;line-height:16px;font-size:12px;color:#8a93a0">3200.00</div>
<div class="t" style="left:1700px;width:105.5px;text-align:right;top:707.8px;height:16px;line-height:16px;font-size:12px;color:#8a93a0">3100.00</div>
<div style="position:absolute;left:1752px;top:180px;width:64px;height:20px;background:#2bb28a"></div>
<div style="position:absolute;left:1752px;top:190px;width:6px;height:1px;background:#fff"></div>
<div class="t" style="left:1700px;width:105.5px;text-align:right;top:182px;height:16px;line-height:16px;font-size:12px;color:#fff;-webkit-text-stroke:0.3px #fff">4564.25</div>
<div class="t" style="left:1453px;top:169.0px;height:16px;line-height:16px;font-size:12px;color:#222;">4598.97</div>
<div class="t" style="left:172.5px;top:699.5px;height:16px;line-height:16px;font-size:12px;color:#222;">3122.03</div>
<div style="position:absolute;left:-5px;top:646px;width:8px;height:38px;background:#d9d9d9;border-radius:3px"></div>
<div style="position:absolute;left:0;top:662px;width:1px;height:6px;background:#555"></div>
<div style="position:absolute;left:1814px;top:646px;width:8px;height:38px;background:#d9d9d9;border-radius:3px 0 0 3px"></div>
<svg class="i" style="left:1816px;top:661px" width="5" height="9"><path d="M0.5 0.5L4.5 4.5L0.5 8.5Z" fill="#777"/></svg>
<div class="t" style="left:1834.5px;top:13.0px;height:22px;line-height:22px;font-size:18px;color:#333;">伦敦金</div>
<svg class="i" style="left:1893px;top:17px" width="14" height="14"><rect x="0.5" y="3.5" width="9" height="9" fill="#fff" stroke="#bbb"/><path d="M3.5 3.5V0.5H12.5V9.5H9.5" fill="none" stroke="#bbb"/></svg>
<div class="t" style="left:1834.5px;top:39.2px;height:17.5px;line-height:17.5px;font-size:13.5px;color:#777;">XAUUSD</div>
<div class="t" style="left:1834.5px;top:71.0px;height:26px;line-height:26px;font-size:22px;color:#e8334a;">4,563.19</div>
<div class="t" style="left:1925px;top:78.5px;height:17px;line-height:17px;font-size:13px;color:#1aa37a;">1.29%</div>
<div style="position:absolute;left:1834px;top:115px;width:80px;height:26px;background:linear-gradient(100deg,#f9e7b5,#f1cc6c)"></div>
<div class="t" style="left:1858.5px;top:120.5px;height:16px;line-height:16px;font-size:12px;color:#333;">副图指标</div>
<div style="position:absolute;left:1922px;top:115px;width:80px;height:26px;background:linear-gradient(100deg,#f9e7b5,#f1cc6c)"></div>
<div class="t" style="left:1946.5px;top:120.5px;height:16px;line-height:16px;font-size:12px;color:#333;">加入自选</div>
<div style="position:absolute;left:2010px;top:115px;width:80px;height:26px;background:#e7e7e7"></div>
<div class="t" style="left:2034.5px;top:120.5px;height:16px;line-height:16px;font-size:12px;color:#333;">添加预警</div>
<svg class="i" style="left:1841px;top:121.5px" width="13" height="13"><circle cx="6.5" cy="6.5" r="6" fill="#3a2e10"/><path d="M6.5 3.3V9.7M3.3 6.5H9.7" stroke="#f5dc9a" stroke-width="1.6"/></svg>
<svg class="i" style="left:1929px;top:121.5px" width="13" height="13"><circle cx="6.5" cy="6.5" r="6" fill="#3a2e10"/><path d="M6.5 3.3V9.7M3.3 6.5H9.7" stroke="#f5dc9a" stroke-width="1.6"/></svg>
<svg class="i" style="left:2017px;top:121.5px" width="13" height="13"><circle cx="6.5" cy="6.5" r="6" fill="#111"/><path d="M3.9 8.4V5.6A2.6 2.6 0 0 1 9.1 5.6V8.4Z" fill="none" stroke="#fff" stroke-width="1.1"/><path d="M5.6 10.4H7.4" stroke="#fff" stroke-width="1.1"/></svg>
<div style="position:absolute;left:1834px;top:175px;width:3px;height:14px;background:#111"></div>
<div class="t" style="left:1847.5px;top:172.5px;height:18px;line-height:18px;font-size:14px;color:#333;">指数简介</div>
<div class="t" style="left:1837.5px;top:214.5px;height:16px;line-height:16px;font-size:12px;color:#444;">伦敦金不是一种黄金，而是一种贵金属保证金交易方</div>
<div class="t" style="left:1837.5px;top:236.5px;height:16px;line-height:16px;font-size:12px;color:#444;">式，标的为纯度不低于99.5%的黄金。伦敦金因起源</div>
<div class="t" style="left:1837.5px;top:258.5px;height:16px;line-height:16px;font-size:12px;color:#444;">于伦敦而得名，在国际市场上已有超过300年的历</div>
<div class="t" style="left:1837.5px;top:280.5px;height:16px;line-height:16px;font-size:12px;color:#444;">史，是市场上最热门的黄金投资方式，广为投资者和</div>
<div class="t" style="left:1837.5px;top:302.5px;height:16px;line-height:16px;font-size:12px;color:#444;">炒家所追捧。</div>
<div class="t" style="left:1837.5px;top:324.5px;height:16px;line-height:16px;font-size:12px;color:#444;">交易单位：1金衡盎司</div>
<div class="t" style="left:1837.5px;top:346.5px;height:16px;line-height:16px;font-size:12px;color:#444;">报价单位：美元/盎司</div>
<div class="t" style="left:1837.5px;top:368.5px;height:16px;line-height:16px;font-size:12px;color:#444;">最小变动价位：0.01美元/盎司</div>
<div style="position:absolute;left:1834px;top:413px;width:3px;height:14px;background:#111"></div>
<div class="t" style="left:1847.5px;top:411.0px;height:18px;line-height:18px;font-size:14px;color:#333;">大家在关注</div>
<div class="t" style="left:1839px;top:460.1px;height:24px;line-height:24px;font-size:22px;font-weight:bold;color:#f47878">1</div>
<div class="t" style="left:1868px;top:451.6px;height:18px;line-height:18px;font-size:14px;color:#333;font-weight:bold">伦敦金</div>
<div class="t" style="left:1868px;top:475.3px;height:16px;line-height:16px;font-size:12px;color:#888;">4.976万 热度</div>
<svg class="i" style="left:2093px;top:464.6px" width="14" height="14"><rect x="0.5" y="0.5" width="13" height="13" fill="none" stroke="#888"/><path d="M7 3.5V10.5M3.5 7H10.5" stroke="#666" stroke-width="1.1"/></svg>
<div class="t" style="left:1839px;top:517.1px;height:24px;line-height:24px;font-size:22px;font-weight:bold;color:#f0985a">2</div>
<svg class="i" style="left:1837px;top:543.1px" width="8" height="10"><path d="M4 1.5V9M1 4.5L4 1.5L7 4.5" fill="none" stroke="#33c08c" stroke-width="1.5"/></svg>
<div class="t" style="left:1845.5px;top:541.1px;height:15px;line-height:15px;font-size:11px;color:#33c08c;">9</div>
<div class="t" style="left:1868px;top:516.6px;height:18px;line-height:18px;font-size:14px;color:#333;font-weight:bold">纳斯达克指数期货CFD</div>
<div class="t" style="left:1868px;top:540.3px;height:16px;line-height:16px;font-size:12px;color:#888;">1.496万 热度</div>
<svg class="i" style="left:2093px;top:529.6px" width="14" height="14"><rect x="0.5" y="0.5" width="13" height="13" fill="none" stroke="#888"/><path d="M7 3.5V10.5M3.5 7H10.5" stroke="#666" stroke-width="1.1"/></svg>
<div class="t" style="left:1839px;top:582.1px;height:24px;line-height:24px;font-size:22px;font-weight:bold;color:#72bdf7">3</div>
<svg class="i" style="left:1837px;top:608.1px" width="8" height="10"><path d="M4 1.5V9M1 4.5L4 1.5L7 4.5" fill="none" stroke="#33c08c" stroke-width="1.5"/></svg>
<div class="t" style="left:1845.5px;top:606.1px;height:15px;line-height:15px;font-size:11px;color:#33c08c;">7</div>
<div class="t" style="left:1868px;top:581.6px;height:18px;line-height:18px;font-size:14px;color:#333;font-weight:bold">伦敦银</div>
<div class="t" style="left:1868px;top:605.3px;height:16px;line-height:16px;font-size:12px;color:#888;">1.38万 热度</div>
<svg class="i" style="left:2093px;top:594.6px" width="14" height="14"><rect x="0.5" y="0.5" width="13" height="13" fill="none" stroke="#888"/><path d="M7 3.5V10.5M3.5 7H10.5" stroke="#666" stroke-width="1.1"/></svg>
<div class="t" style="left:1840.5px;top:650.1px;height:18px;line-height:18px;font-size:14px;color:#666;">4</div>
<svg class="i" style="left:1837px;top:671.1px" width="8" height="10"><path d="M4 1V8.5M1 5.5L4 8.5L7 5.5" fill="none" stroke="#ef5b5b" stroke-width="1.5"/></svg>
<div class="t" style="left:1845.5px;top:669.1px;height:15px;line-height:15px;font-size:11px;color:#ef5b5b;">2</div>
<div class="t" style="left:1868px;top:646.6px;height:18px;line-height:18px;font-size:14px;color:#333;font-weight:bold">币安-ETH永续多空持仓人数比</div>
<div class="t" style="left:1868px;top:670.3px;height:16px;line-height:16px;font-size:12px;color:#888;">500.00 热度</div>
<svg class="i" style="left:2093px;top:659.6px" width="14" height="14"><rect x="0.5" y="0.5" width="13" height="13" fill="none" stroke="#888"/><path d="M7 3.5V10.5M3.5 7H10.5" stroke="#666" stroke-width="1.1"/></svg>
<div class="t" style="left:1840.5px;top:723.1px;height:18px;line-height:18px;font-size:14px;color:#666;">5</div>
<div class="t" style="left:1868px;top:711.6px;height:18px;line-height:18px;font-size:14px;color:#333;font-weight:bold">BTC 总市值占比 (%)</div>
<div class="t" style="left:1868px;top:735.3px;height:16px;line-height:16px;font-size:12px;color:#888;">500.00 热度</div>
<svg class="i" style="left:2093px;top:724.6px" width="14" height="14"><rect x="0.5" y="0.5" width="13" height="13" fill="none" stroke="#888"/><path d="M7 3.5V10.5M3.5 7H10.5" stroke="#666" stroke-width="1.1"/></svg>
</body></html>
